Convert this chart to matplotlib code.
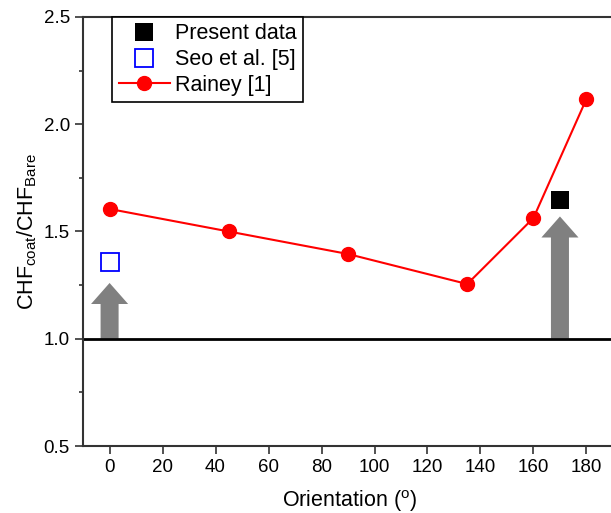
import matplotlib
matplotlib.use('Agg')
import matplotlib.pyplot as plt
from matplotlib.ticker import MultipleLocator

# data
rainey_angle = [0, 45, 90, 135, 160, 180]
rainey_ratio = [1.605, 1.50, 1.395, 1.255, 1.563, 2.118]
present_angle = [170]
present_ratio = [1.645]
seo_angle = [0]
seo_ratio = [1.358]
# gray arrows: (x, tip)
arrow_x = [0, 170]
arrow_top = [1.26, 1.57]

plt.rcParams['font.family'] = ['Liberation Sans', 'DejaVu Sans']
fig = plt.figure(figsize=(6.11, 5.13), dpi=100)
ax = fig.add_axes([0.136, 0.1306, 0.8715, 0.8363])

ax.axhline(1.0, color='black', lw=2, zorder=2)

for x, top in zip(arrow_x, arrow_top):
    ax.arrow(x, 1.0, 0, top - 1.0, width=6.8, head_width=14, head_length=0.098,
             length_includes_head=True, color='#808080', lw=0, zorder=1)

ax.plot(present_angle, present_ratio, 's', color='black', ms=13, mew=0,
        label='Present data', zorder=4)
ax.plot(seo_angle, seo_ratio, 's', mfc='none', mec='blue', ms=12.5, mew=1.3,
        label='Seo et al. [5]', zorder=4)
ax.plot(rainey_angle, rainey_ratio, '-o', color='red', lw=1.5, ms=10,
        label='Rainey [1]', zorder=3)

ax.set_xlim(-10, 191)
ax.set_ylim(0.5, 2.5)
ax.set_xticks(range(0, 181, 20))
ax.set_yticks([0.5, 1.0, 1.5, 2.0, 2.5])
ax.yaxis.set_minor_locator(MultipleLocator(0.25))
ax.tick_params(axis='both', which='major', direction='out', length=6, width=1.2,
               labelsize=13.5, colors='#333333', labelcolor='black')
ax.tick_params(axis='y', which='minor', direction='out', length=3, width=1.2,
               colors='#333333')
for s in ax.spines.values():
    s.set_color('#333333')
    s.set_linewidth(1.5)
ax.spines['right'].set_visible(False)

ax.set_xlabel('Orientation ($^\\mathregular{o}$)', fontsize=15.5, labelpad=9)
ax.set_ylabel('CHF$_\\mathregular{coat}$/CHF$_\\mathregular{Bare}$', fontsize=15.5, labelpad=3)

leg = ax.legend(loc='upper left', bbox_to_anchor=(0.0545, 1.0), fontsize=15.5,
                frameon=True, fancybox=False, edgecolor='black', framealpha=1,
                handlelength=2.4, borderpad=0.3, labelspacing=0.22,
                handletextpad=0.2, borderaxespad=0)
leg.get_frame().set_linewidth(1.2)

fig.savefig('out.png', dpi=100)
